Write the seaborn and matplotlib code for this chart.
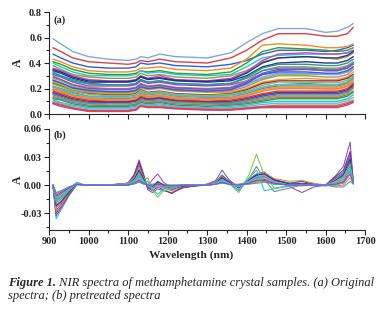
import pandas as pd
import matplotlib
matplotlib.use("Agg")
import matplotlib.pyplot as plt
import seaborn as sns
from matplotlib.ticker import MultipleLocator, FormatStrFormatter

# wavelength knots (nm) for the original spectra, panel (a)
wl_a = [910, 930, 960, 1000, 1050, 1100, 1120, 1132, 1150, 1180, 1220,
        1300, 1360, 1400, 1440, 1480, 1550, 1600, 1630, 1655, 1670]

raw_01 = [0.59, 0.55, 0.49, 0.45, 0.43, 0.42, 0.43, 0.45, 0.44, 0.47, 0.45, 0.44, 0.48, 0.56, 0.63, 0.67, 0.67, 0.64, 0.65, 0.68, 0.71]
raw_02 = [0.52, 0.49, 0.44, 0.41, 0.40, 0.39, 0.40, 0.42, 0.41, 0.43, 0.41, 0.40, 0.44, 0.50, 0.58, 0.63, 0.63, 0.61, 0.61, 0.63, 0.68]
raw_03 = [0.47, 0.44, 0.40, 0.37, 0.36, 0.36, 0.37, 0.40, 0.39, 0.40, 0.38, 0.37, 0.39, 0.42, 0.47, 0.50, 0.50, 0.49, 0.50, 0.52, 0.54]
raw_04 = [0.43, 0.41, 0.37, 0.34, 0.33, 0.33, 0.34, 0.36, 0.36, 0.37, 0.35, 0.34, 0.36, 0.43, 0.54, 0.55, 0.54, 0.52, 0.52, 0.53, 0.55]
raw_05 = [0.41, 0.39, 0.35, 0.32, 0.31, 0.31, 0.32, 0.34, 0.33, 0.34, 0.32, 0.31, 0.33, 0.40, 0.49, 0.52, 0.51, 0.50, 0.49, 0.50, 0.52]
raw_06 = [0.40, 0.37, 0.33, 0.30, 0.30, 0.30, 0.31, 0.34, 0.32, 0.33, 0.31, 0.30, 0.31, 0.37, 0.44, 0.46, 0.47, 0.47, 0.47, 0.48, 0.50]
raw_07 = [0.38, 0.35, 0.31, 0.29, 0.28, 0.28, 0.29, 0.32, 0.30, 0.31, 0.29, 0.28, 0.30, 0.34, 0.41, 0.44, 0.45, 0.44, 0.43, 0.45, 0.48]
raw_08 = [0.36, 0.34, 0.30, 0.27, 0.26, 0.26, 0.27, 0.30, 0.28, 0.30, 0.27, 0.26, 0.28, 0.33, 0.42, 0.47, 0.48, 0.47, 0.47, 0.48, 0.50]
raw_09 = [0.34, 0.32, 0.28, 0.25, 0.25, 0.25, 0.26, 0.29, 0.27, 0.28, 0.26, 0.25, 0.26, 0.30, 0.37, 0.40, 0.41, 0.40, 0.40, 0.42, 0.45]
raw_10 = [0.33, 0.30, 0.27, 0.24, 0.23, 0.23, 0.24, 0.27, 0.25, 0.26, 0.24, 0.23, 0.24, 0.29, 0.36, 0.39, 0.39, 0.38, 0.38, 0.40, 0.43]
raw_11 = [0.31, 0.29, 0.25, 0.22, 0.22, 0.22, 0.23, 0.26, 0.24, 0.25, 0.23, 0.22, 0.23, 0.26, 0.31, 0.34, 0.35, 0.34, 0.34, 0.36, 0.40]
raw_12 = [0.30, 0.27, 0.23, 0.21, 0.20, 0.20, 0.21, 0.24, 0.22, 0.23, 0.21, 0.20, 0.21, 0.26, 0.34, 0.37, 0.37, 0.36, 0.36, 0.38, 0.41]
raw_13 = [0.28, 0.26, 0.22, 0.19, 0.19, 0.19, 0.20, 0.23, 0.21, 0.22, 0.20, 0.19, 0.20, 0.23, 0.28, 0.31, 0.31, 0.31, 0.31, 0.33, 0.37]
raw_14 = [0.27, 0.24, 0.21, 0.18, 0.18, 0.18, 0.19, 0.22, 0.20, 0.21, 0.19, 0.18, 0.19, 0.23, 0.29, 0.32, 0.32, 0.31, 0.31, 0.33, 0.36]
raw_15 = [0.25, 0.23, 0.19, 0.17, 0.16, 0.16, 0.17, 0.20, 0.19, 0.20, 0.18, 0.17, 0.17, 0.20, 0.25, 0.27, 0.28, 0.27, 0.27, 0.29, 0.33]
raw_16 = [0.24, 0.22, 0.18, 0.16, 0.15, 0.15, 0.16, 0.19, 0.17, 0.18, 0.16, 0.15, 0.16, 0.19, 0.24, 0.26, 0.26, 0.26, 0.26, 0.28, 0.31]
raw_17 = [0.22, 0.20, 0.17, 0.14, 0.14, 0.14, 0.15, 0.18, 0.16, 0.17, 0.15, 0.14, 0.15, 0.17, 0.21, 0.23, 0.24, 0.23, 0.23, 0.25, 0.29]
raw_18 = [0.21, 0.19, 0.15, 0.13, 0.12, 0.12, 0.13, 0.16, 0.15, 0.16, 0.14, 0.13, 0.13, 0.16, 0.20, 0.22, 0.22, 0.22, 0.22, 0.24, 0.28]
raw_19 = [0.19, 0.17, 0.14, 0.12, 0.11, 0.11, 0.12, 0.15, 0.13, 0.14, 0.12, 0.11, 0.12, 0.14, 0.18, 0.20, 0.20, 0.20, 0.20, 0.22, 0.26]
raw_20 = [0.18, 0.16, 0.13, 0.11, 0.10, 0.10, 0.11, 0.14, 0.12, 0.13, 0.11, 0.10, 0.11, 0.13, 0.16, 0.18, 0.18, 0.18, 0.18, 0.20, 0.24]
raw_21 = [0.16, 0.14, 0.11, 0.09, 0.09, 0.09, 0.10, 0.12, 0.11, 0.12, 0.10, 0.09, 0.09, 0.11, 0.14, 0.16, 0.16, 0.16, 0.16, 0.18, 0.22]
raw_22 = [0.14, 0.12, 0.10, 0.08, 0.07, 0.07, 0.08, 0.11, 0.10, 0.10, 0.09, 0.08, 0.08, 0.10, 0.12, 0.14, 0.14, 0.14, 0.14, 0.16, 0.20]
raw_23 = [0.12, 0.11, 0.08, 0.06, 0.06, 0.06, 0.07, 0.09, 0.08, 0.09, 0.07, 0.06, 0.07, 0.08, 0.10, 0.12, 0.12, 0.12, 0.12, 0.14, 0.17]
raw_24 = [0.11, 0.09, 0.07, 0.05, 0.05, 0.05, 0.06, 0.08, 0.07, 0.08, 0.06, 0.05, 0.06, 0.07, 0.09, 0.10, 0.10, 0.10, 0.10, 0.12, 0.15]
raw_25 = [0.09, 0.08, 0.05, 0.03, 0.03, 0.03, 0.04, 0.07, 0.06, 0.06, 0.05, 0.04, 0.04, 0.05, 0.06, 0.07, 0.07, 0.07, 0.07, 0.09, 0.11]
raw_26 = [0.08, 0.06, 0.04, 0.02, 0.02, 0.02, 0.03, 0.06, 0.05, 0.05, 0.04, 0.03, 0.03, 0.04, 0.05, 0.05, 0.05, 0.05, 0.05, 0.07, 0.09]
raw_27 = [0.35, 0.33, 0.29, 0.26, 0.255, 0.255, 0.265, 0.295, 0.275, 0.285, 0.265, 0.255, 0.27, 0.32, 0.40, 0.44, 0.45, 0.44, 0.44, 0.46, 0.49]
raw_28 = [0.32, 0.30, 0.26, 0.235, 0.23, 0.23, 0.24, 0.27, 0.25, 0.26, 0.24, 0.23, 0.24, 0.28, 0.34, 0.36, 0.36, 0.35, 0.35, 0.37, 0.40]
raw_29 = [0.29, 0.27, 0.23, 0.20, 0.195, 0.195, 0.205, 0.235, 0.215, 0.225, 0.205, 0.195, 0.205, 0.25, 0.32, 0.35, 0.35, 0.34, 0.34, 0.36, 0.39]
raw_30 = [0.26, 0.24, 0.20, 0.175, 0.17, 0.17, 0.18, 0.21, 0.195, 0.205, 0.185, 0.175, 0.18, 0.215, 0.27, 0.30, 0.30, 0.29, 0.29, 0.31, 0.35]
raw_31 = [0.235, 0.215, 0.18, 0.155, 0.145, 0.145, 0.155, 0.185, 0.165, 0.175, 0.155, 0.145, 0.155, 0.18, 0.225, 0.25, 0.25, 0.245, 0.245, 0.265, 0.30]
raw_32 = [0.215, 0.195, 0.16, 0.135, 0.13, 0.13, 0.14, 0.17, 0.155, 0.165, 0.145, 0.135, 0.14, 0.165, 0.21, 0.23, 0.23, 0.23, 0.23, 0.25, 0.29]
raw_33 = [0.20, 0.18, 0.145, 0.125, 0.115, 0.115, 0.125, 0.155, 0.14, 0.15, 0.13, 0.12, 0.125, 0.15, 0.19, 0.21, 0.21, 0.21, 0.21, 0.23, 0.27]
raw_34 = [0.17, 0.15, 0.12, 0.10, 0.095, 0.095, 0.105, 0.13, 0.115, 0.125, 0.105, 0.095, 0.10, 0.12, 0.15, 0.17, 0.17, 0.17, 0.17, 0.19, 0.23]
raw_35 = [0.15, 0.13, 0.105, 0.085, 0.08, 0.08, 0.09, 0.115, 0.105, 0.11, 0.095, 0.085, 0.085, 0.105, 0.13, 0.15, 0.15, 0.15, 0.15, 0.17, 0.21]
raw_36 = [0.13, 0.115, 0.09, 0.07, 0.065, 0.065, 0.075, 0.10, 0.09, 0.095, 0.08, 0.07, 0.075, 0.09, 0.11, 0.13, 0.13, 0.13, 0.13, 0.15, 0.18]
raw_37 = [0.10, 0.085, 0.06, 0.04, 0.04, 0.04, 0.05, 0.075, 0.065, 0.07, 0.055, 0.045, 0.05, 0.06, 0.075, 0.085, 0.085, 0.085, 0.085, 0.105, 0.13]
raw_38 = [0.085, 0.07, 0.045, 0.025, 0.025, 0.025, 0.035, 0.065, 0.055, 0.055, 0.045, 0.035, 0.035, 0.045, 0.055, 0.06, 0.06, 0.06, 0.06, 0.08, 0.10]
raw_39 = [0.265, 0.245, 0.205, 0.185, 0.175, 0.175, 0.185, 0.215, 0.20, 0.21, 0.19, 0.18, 0.19, 0.24, 0.31, 0.33, 0.33, 0.32, 0.32, 0.34, 0.37]
raw_40 = [0.195, 0.175, 0.14, 0.12, 0.11, 0.11, 0.12, 0.15, 0.135, 0.145, 0.125, 0.115, 0.12, 0.145, 0.18, 0.20, 0.20, 0.195, 0.195, 0.215, 0.25]

raw_spectra = [raw_01, raw_02, raw_03, raw_04, raw_05, raw_06, raw_07, raw_08, raw_09, raw_10,
               raw_11, raw_12, raw_13, raw_14, raw_15, raw_16, raw_17, raw_18, raw_19, raw_20,
               raw_21, raw_22, raw_23, raw_24, raw_25, raw_26, raw_27, raw_28, raw_29, raw_30,
               raw_31, raw_32, raw_33, raw_34, raw_35, raw_36, raw_37, raw_38, raw_39, raw_40]

# wavelength knots (nm) for the pretreated spectra, panel (b)
wl_b = [910, 918, 930, 950, 970, 990, 1050, 1100, 1115, 1128, 1140, 1150, 1162, 1175,
        1190, 1210, 1240, 1300, 1322, 1338, 1355, 1380, 1405, 1425, 1445, 1470, 1510,
        1540, 1570, 1600, 1625, 1645, 1662, 1670]

pre_01 = [0.000, -0.036, -0.027, -0.012, 0.000, 0.000, 0.000, 0.002, 0.010, 0.024, 0.010, -0.004, -0.003, 0.002, -0.003, -0.006, -0.002, 0.001, 0.004, 0.011, 0.004, -0.002, 0.004, 0.010, 0.012, 0.006, 0.002, 0.004, 0.001, 0.000, 0.008, 0.014, 0.030, 0.003]
pre_02 = [0.000, -0.033, -0.025, -0.011, 0.001, 0.000, 0.000, 0.002, 0.011, 0.027, 0.011, -0.005, -0.008, -0.004, -0.006, -0.008, -0.003, 0.001, 0.005, 0.016, 0.006, -0.003, 0.006, 0.012, 0.014, 0.005, -0.002, -0.008, -0.002, 0.000, 0.010, 0.020, 0.046, 0.003]
pre_03 = [0.000, -0.030, -0.023, -0.010, 0.001, 0.000, 0.000, 0.002, 0.010, 0.025, 0.009, -0.003, -0.006, -0.002, -0.005, -0.009, -0.002, 0.000, 0.003, 0.010, 0.004, -0.002, 0.005, 0.011, 0.013, 0.006, 0.001, 0.002, 0.001, 0.000, 0.009, 0.016, 0.036, 0.003]
pre_04 = [0.000, -0.027, -0.021, -0.009, 0.001, 0.000, 0.000, 0.002, 0.009, 0.021, 0.008, -0.003, -0.004, 0.003, -0.002, -0.005, -0.001, 0.000, 0.003, 0.009, 0.004, -0.002, 0.004, 0.010, 0.012, 0.005, 0.002, 0.004, 0.001, 0.000, 0.007, 0.013, 0.033, 0.004]
pre_05 = [0.000, -0.024, -0.019, -0.008, 0.002, 0.000, 0.000, 0.001, 0.007, 0.017, 0.007, -0.001, 0.006, 0.012, 0.003, -0.003, -0.001, 0.000, 0.002, 0.008, 0.003, -0.001, 0.003, 0.008, 0.010, 0.004, 0.001, 0.001, 0.000, 0.000, 0.006, 0.012, 0.030, 0.004]
pre_06 = [0.000, -0.021, -0.017, -0.007, 0.003, 0.000, 0.000, 0.001, 0.006, 0.015, 0.006, 0.008, -0.006, -0.013, -0.006, -0.004, -0.001, 0.000, 0.002, 0.007, 0.002, -0.008, 0.010, 0.033, 0.010, -0.003, -0.001, 0.000, 0.000, 0.000, 0.004, 0.008, 0.020, 0.003]
pre_07 = [0.000, -0.019, -0.015, -0.006, 0.002, 0.000, 0.000, 0.001, 0.005, 0.013, 0.005, -0.002, -0.003, -0.001, -0.002, -0.004, 0.000, 0.000, 0.002, 0.007, 0.003, -0.006, 0.006, 0.020, 0.006, -0.007, -0.003, 0.000, 0.000, -0.001, 0.002, 0.006, 0.026, 0.002]
pre_08 = [0.000, -0.017, -0.013, -0.005, 0.002, 0.000, 0.000, 0.001, 0.004, 0.011, 0.004, 0.000, -0.002, 0.002, 0.000, -0.003, 0.000, 0.000, 0.002, 0.006, 0.002, -0.001, 0.003, 0.007, 0.008, 0.003, 0.000, 0.000, 0.000, 0.000, 0.005, 0.010, 0.024, 0.004]
pre_09 = [0.000, -0.015, -0.012, -0.005, 0.002, 0.000, 0.000, 0.001, 0.004, 0.009, 0.003, -0.001, -0.002, 0.000, -0.001, -0.002, 0.000, 0.000, 0.001, 0.005, 0.002, 0.000, 0.004, 0.008, 0.009, 0.004, 0.001, 0.000, 0.000, 0.000, 0.004, 0.009, 0.021, 0.003]
pre_10 = [0.000, -0.013, -0.010, -0.004, 0.002, 0.000, 0.000, 0.001, 0.003, 0.008, 0.003, 0.000, -0.001, 0.001, 0.000, -0.002, 0.000, 0.000, 0.001, 0.005, 0.002, 0.000, 0.002, 0.006, 0.007, 0.003, 0.000, -0.001, 0.000, 0.000, 0.003, 0.007, 0.018, 0.003]
pre_11 = [0.000, -0.012, -0.009, -0.004, 0.002, 0.000, 0.000, 0.000, 0.003, 0.006, 0.002, 0.000, 0.000, 0.001, 0.000, -0.001, 0.000, 0.000, 0.001, 0.004, 0.001, 0.000, 0.002, 0.005, 0.006, 0.002, 0.000, 0.000, 0.000, 0.000, 0.001, 0.004, 0.015, 0.002]
pre_12 = [0.000, -0.010, -0.008, -0.003, 0.002, 0.000, 0.000, 0.000, 0.002, 0.005, 0.002, 0.001, 0.001, 0.002, 0.001, -0.001, 0.000, 0.000, 0.001, 0.004, 0.001, 0.001, 0.003, 0.004, 0.005, 0.002, 0.001, 0.000, 0.000, 0.000, 0.000, 0.002, 0.012, 0.002]
pre_13 = [0.000, -0.009, -0.007, -0.003, 0.001, 0.000, 0.000, 0.000, 0.002, 0.004, 0.001, 0.000, 0.000, 0.000, 0.000, 0.000, 0.000, 0.000, 0.001, 0.003, 0.001, 0.000, 0.001, 0.003, 0.004, 0.001, 0.000, 0.000, 0.000, 0.000, -0.001, 0.000, 0.008, 0.001]
pre_14 = [0.000, -0.008, -0.006, -0.002, 0.001, 0.000, 0.000, 0.000, 0.001, 0.003, 0.001, 0.000, 0.000, 0.000, 0.000, 0.000, 0.000, 0.000, 0.001, 0.002, 0.001, 0.000, 0.001, 0.002, 0.003, 0.001, 0.000, 0.000, 0.000, 0.000, -0.002, -0.002, 0.004, 0.001]
pre_15 = [0.000, -0.028, -0.022, -0.009, 0.001, 0.000, 0.000, 0.002, 0.008, 0.019, 0.007, -0.002, -0.004, -0.001, -0.003, -0.006, -0.001, 0.000, 0.003, 0.009, 0.003, -0.002, 0.006, 0.012, 0.013, 0.007, 0.004, 0.005, 0.002, 0.000, 0.006, 0.012, 0.028, 0.003]
pre_16 = [0.000, -0.022, -0.018, -0.008, 0.002, 0.000, 0.000, 0.001, 0.006, 0.016, 0.006, -0.002, -0.002, 0.004, 0.000, -0.004, -0.001, 0.000, 0.002, 0.008, 0.003, -0.003, 0.005, 0.011, 0.012, 0.005, 0.001, 0.001, 0.000, 0.000, 0.005, 0.011, 0.028, 0.003]
pre_17 = [0.000, -0.018, -0.014, -0.006, 0.002, 0.000, 0.000, 0.001, 0.005, 0.012, 0.004, -0.001, -0.003, -0.002, -0.003, -0.004, 0.000, 0.000, 0.002, 0.006, 0.002, -0.002, 0.004, 0.009, 0.010, 0.004, 0.000, 0.000, 0.000, 0.000, 0.004, 0.009, 0.022, 0.003]
pre_18 = [0.000, -0.014, -0.011, -0.004, 0.002, 0.000, 0.000, 0.001, 0.003, 0.007, 0.002, 0.000, -0.001, 0.000, -0.001, -0.002, 0.000, 0.000, 0.001, 0.004, 0.001, -0.001, 0.003, 0.007, 0.008, 0.003, 0.000, 0.000, 0.000, 0.000, 0.002, 0.006, 0.017, 0.002]
pre_19 = [0.000, -0.016, -0.012, -0.005, 0.003, 0.000, 0.000, 0.001, 0.004, 0.010, 0.004, 0.004, -0.004, -0.010, -0.004, -0.003, 0.000, 0.000, 0.002, 0.006, 0.002, -0.005, 0.007, 0.016, -0.006, -0.004, -0.001, 0.000, 0.000, 0.000, 0.002, 0.006, 0.018, 0.002]
pre_20 = [0.000, -0.011, -0.008, -0.003, 0.001, 0.000, 0.000, 0.000, 0.002, 0.005, 0.002, 0.000, -0.001, 0.001, 0.000, -0.001, 0.000, 0.000, 0.001, 0.003, 0.001, 0.000, 0.002, 0.005, 0.005, 0.002, 0.000, 0.000, 0.000, 0.000, 0.001, 0.003, 0.012, 0.002]

pre_spectra = [pre_01, pre_02, pre_03, pre_04, pre_05, pre_06, pre_07, pre_08, pre_09, pre_10,
               pre_11, pre_12, pre_13, pre_14, pre_15, pre_16, pre_17, pre_18, pre_19, pre_20]

line_colors = ["#7fa8e0", "#e04040", "#2f5fe0", "#f08c28", "#2ca02c", "#1ec8d8",
               "#9a9a3a", "#d040c0", "#203a90", "#2a9a90", "#8a4ad0", "#c8846a",
               "#7ac840", "#6aaee8", "#e0a030", "#a02060", "#40a0a0", "#808080"]

serif = ["Liberation Serif", "DejaVu Serif"]


def long_frame(wl, spectra):
    rows = []
    for i, s in enumerate(spectra):
        for w, v in zip(wl, s):
            rows.append({"sample": i, "wl": w, "A": v})
    return pd.DataFrame(rows)


df_a = long_frame(wl_a, raw_spectra)
df_b = long_frame(wl_b, pre_spectra)

sns.set_style("ticks")
plt.rcParams["font.family"] = serif
plt.rcParams["font.weight"] = "bold"

fig = plt.figure(figsize=(3.87, 3.11), dpi=100)
ax_a = fig.add_axes([0.1266, 0.6334, 0.817, 0.328])
ax_b = fig.add_axes([0.1266, 0.2605, 0.817, 0.3248])

pal_a = [line_colors[i % len(line_colors)] for i in range(len(raw_spectra))]
pal_b = [line_colors[(i * 5 + 5) % len(line_colors)] for i in range(len(pre_spectra))]

sns.lineplot(data=df_a, x="wl", y="A", hue="sample", palette=pal_a, estimator=None,
             linewidth=1.0, legend=False, ax=ax_a)
sns.lineplot(data=df_b, x="wl", y="A", hue="sample", palette=pal_b, estimator=None,
             linewidth=0.75, legend=False, ax=ax_b)

for ax in (ax_a, ax_b):
    ax.set_xlim(900, 1700)
    ax.xaxis.set_major_locator(MultipleLocator(100))
    ax.xaxis.set_minor_locator(MultipleLocator(50))
    for side in ("top", "right"):
        ax.spines[side].set_visible(False)
    for side in ("left", "bottom"):
        ax.spines[side].set_linewidth(0.8)
    ax.tick_params(which="major", direction="out", length=3.5, width=0.8, labelsize=7.5, pad=1.5)
    ax.tick_params(which="minor", direction="out", length=2, width=0.8)
    ax.set_ylabel("A", fontsize=8.5, fontweight="bold", labelpad=2)
    ax.set_xlabel("")

ax_a.set_ylim(0, 0.8)
ax_a.yaxis.set_major_locator(MultipleLocator(0.2))
ax_a.yaxis.set_minor_locator(MultipleLocator(0.1))
ax_a.yaxis.set_major_formatter(FormatStrFormatter("%.1f"))
ax_a.tick_params(axis="x", labelbottom=False)

ax_b.set_ylim(-0.048, 0.06)
ax_b.yaxis.set_major_locator(MultipleLocator(0.03))
ax_b.yaxis.set_minor_locator(MultipleLocator(0.015))
ax_b.yaxis.set_major_formatter(FormatStrFormatter("%.2f"))
ax_b.set_xlabel("Wavelength (nm)", fontsize=8.2, fontweight="bold")
ax_b.xaxis.set_label_coords(0.45, -0.2)

ax_a.yaxis.set_label_coords(-0.08, 0.5)
ax_b.yaxis.set_label_coords(-0.08, 0.5)

ax_a.text(0.015, 0.97, "(a)", transform=ax_a.transAxes, fontsize=7.5,
          fontweight="bold", va="top", ha="left")
ax_b.text(0.015, 0.99, "(b)", transform=ax_b.transAxes, fontsize=7.5,
          fontweight="bold", va="top", ha="left")

# caption
t1 = fig.text(8 / 387, 1 - 283 / 311, "Figure 1.", fontsize=9, style="italic",
              fontweight="bold", va="center", ha="left")
fig.canvas.draw()
bb = t1.get_window_extent(fig.canvas.get_renderer())
fig.text(bb.x1 / fig.bbox.width, 1 - 283 / 311,
         " NIR spectra of methamphetamine crystal samples. (a) Original",
         fontsize=9, style="italic", fontweight="normal", va="center", ha="left")
fig.text(8 / 387, 1 - 296 / 311, "spectra; (b) pretreated spectra", fontsize=9,
         style="italic", fontweight="normal", va="center", ha="left")

fig.savefig("out.png", dpi=100)
